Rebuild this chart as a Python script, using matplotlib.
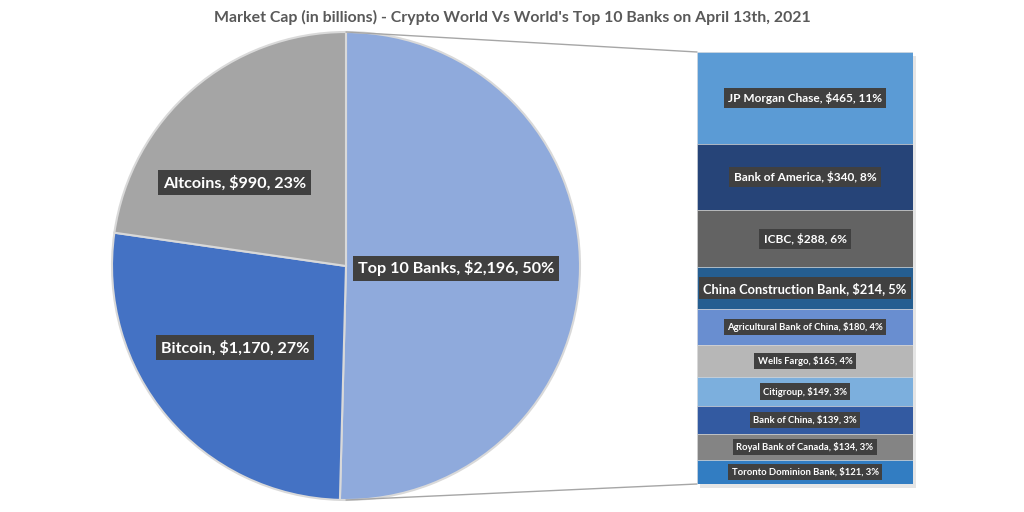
import matplotlib
matplotlib.use("Agg")
import matplotlib.pyplot as plt
from matplotlib.patches import ConnectionPatch, Rectangle
import numpy as np

plt.rcParams['font.family'] = ['Lato', 'DejaVu Sans']

# ---- data ----
pie_labels = ["Top 10 Banks", "Bitcoin", "Altcoins"]
pie_values = [2196, 1170, 990]
pie_pcts = [50, 27, 23]
pie_colors = ["#8FAADC", "#4472C4", "#A5A5A5"]

banks = ["JP Morgan Chase", "Bank of America", "ICBC", "China Construction Bank",
         "Agricultural Bank of China", "Wells Fargo", "Citigroup", "Bank of China",
         "Royal Bank of Canada", "Toronto Dominion Bank"]
bank_values = [465, 340, 288, 214, 180, 165, 149, 139, 134, 121]
bank_pcts = [11, 8, 6, 5, 4, 4, 3, 3, 3, 3]
bank_colors = ["#5B9BD5", "#264478", "#636363", "#255E91", "#698ED0",
               "#B7B7B7", "#7CAFDD", "#335AA1", "#848484", "#327DC2"]
bank_fontsizes = [8.6, 8.6, 8.6, 9.3, 6.8, 6.8, 6.8, 6.8, 6.8, 6.8]

title = "Market Cap (in billions) - Crypto World Vs World's Top 10 Banks on April 13th, 2021"

W, H = 1024, 512
fig = plt.figure(figsize=(W / 100, H / 100), dpi=100)
fig.patch.set_facecolor("white")

# ---- pie ----
cx, cy, r = 346, 266, 234
ax1 = fig.add_axes([(cx - r) / W, (H - cy - r) / H, 2 * r / W, 2 * r / H])
wedges, _ = ax1.pie(pie_values, colors=pie_colors, startangle=90, counterclock=False,
                    radius=1, wedgeprops=dict(edgecolor="#D9D9D9", linewidth=1.5))
ax1.set_xlim(-1, 1)
ax1.set_ylim(-1, 1)
ax1.set_aspect("equal")
ax1.axis("off")

label_box = dict(boxstyle="square,pad=0.3", fc="#404040", ec="none")
pie_label_pos = [(0.47, -0.01), (-0.475, -0.35), (-0.475, 0.355)]
for (lx, ly), name, v, p in zip(pie_label_pos, pie_labels, pie_values, pie_pcts):
    ax1.text(lx, ly, f"{name}, ${v:,}, {p}%", ha="center", va="center",
             color="white", fontsize=11.6, fontweight="bold", bbox=label_box)

# ---- bar ----
bx0, bx1, by0, by1 = 697, 913, 52, 484
shadow = Rectangle(((bx0 + 3) / W, (H - by1 - 4) / H), (bx1 - bx0) / W, (by1 - by0) / H,
                   transform=fig.transFigure, fc="#000000", alpha=0.10, ec="none",
                   zorder=-1)
fig.add_artist(shadow)
ax2 = fig.add_axes([bx0 / W, (H - by1) / H, (bx1 - bx0) / W, (by1 - by0) / H])
ax2.set_zorder(2)
total = sum(bank_values)
bottoms = np.concatenate([[0], np.cumsum(bank_values)[:-1]])
ax2.bar([0.5] * len(bank_values), bank_values, width=1, bottom=bottoms,
        color=bank_colors, edgecolor="#D9D9D9", linewidth=0.4)
ax2.set_xlim(0, 1)
ax2.set_ylim(total, 0)
ax2.axis("off")

small_box = dict(boxstyle="square,pad=0.35", fc="#404040", ec="none")
for name, v, p, b, fs in zip(banks, bank_values, bank_pcts, bottoms, bank_fontsizes):
    ax2.text(0.5, b + v / 2, f"{name}, ${v}, {p}%", ha="center", va="center",
             color="white", fontsize=fs, fontweight="bold", bbox=small_box)

# ---- connector lines ----
for pie_pt, bar_pt in [((0, 1), (0, 0)), ((0, -1), (0, total))]:
    con = ConnectionPatch(xyA=pie_pt, coordsA=ax1.transData,
                          xyB=bar_pt, coordsB=ax2.transData,
                          color="#A6A6A6", linewidth=1)
    fig.add_artist(con)

fig.text(0.5, 1 - 17 / H, title, ha="center", va="center", fontsize=11.4,
         fontweight="bold", color="#595959")

fig.savefig("out.png", dpi=100)
